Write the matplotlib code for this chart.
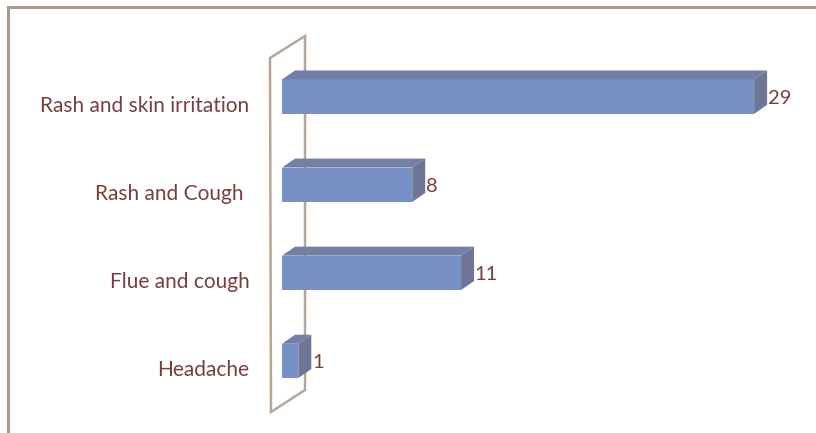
import matplotlib.pyplot as plt
from matplotlib.patches import Polygon
from matplotlib.lines import Line2D
from matplotlib.transforms import ScaledTranslation

# data
categories = ['Headache', 'Flue and cough', 'Rash and Cough ', 'Rash and skin irritation']
values = [1, 11, 8, 29]

W, H, DPI = 816, 433, 100
front = '#7891c4'
top = '#7280a6'
side = '#6e7698'
txt = '#7a3e3e'
wall = '#b5a697'

plt.rcParams['font.family'] = ['Lato', 'DejaVu Sans']

fig = plt.figure(figsize=(W / DPI, H / DPI), dpi=DPI)
ax = fig.add_axes([282 / W, 0, 1 - 282 / W, 1])
xmax = (W - 282) / 16.28
ax.set_xlim(0, xmax)
ax.set_ylim(-0.818, 4.097)

# pixel -> data scale
sx = (W - 282) / xmax
sy = H / (4.097 + 0.818)
dx, dy = 13 / sx, 9 / sy
h = 0.39

pos = list(range(len(categories)))
ax.barh(pos, values, height=h, color=front, zorder=3)
for y, v in zip(pos, values):
    t = y + h / 2
    b = y - h / 2
    ax.add_patch(Polygon([(0, t), (v, t), (v + dx, t + dy), (dx, t + dy)],
                         closed=True, facecolor=top, edgecolor='none', zorder=3))
    ax.add_patch(Polygon([(v, b), (v + dx, b + dy), (v + dx, t + dy), (v, t)],
                         closed=True, facecolor=side, edgecolor='none', zorder=3))
    ax.annotate(str(v), xy=(v + dx, y), xytext=(0.5, -1), textcoords='offset points',
                va='center', ha='left', fontsize=14.5, color=txt)

# back wall (outline)
def px(x, y):
    return ((x - 282) / sx, 4.097 - y / sy)

wall_pts = [px(270, 58), px(305, 36), px(305, 390), px(271, 412)]
ax.add_patch(Polygon(wall_pts, closed=True, facecolor='none', edgecolor=wall,
                     lw=1.8, zorder=1, clip_on=False))

ax.set_yticks(pos)
ax.set_yticklabels(categories, fontsize=15, color=txt)
ax.tick_params(axis='y', length=0, pad=23.5)
shift = ScaledTranslation(0, -7 / DPI, fig.dpi_scale_trans)
for lab in ax.get_yticklabels():
    lab.set_transform(lab.get_transform() + shift)
ax.set_xticks([])
for s in ax.spines.values():
    s.set_visible(False)
ax.patch.set_alpha(0)

# outer border
fig.add_artist(Line2D([8 / W, 815 / W], [1 - 7 / H, 1 - 7 / H], color='#ad9c8b', lw=2.2))
fig.add_artist(Line2D([8 / W, 8 / W], [1 - 7 / H, 0], color='#ad9c8b', lw=2.2))

fig.savefig('out.png', dpi=DPI, facecolor='white')
